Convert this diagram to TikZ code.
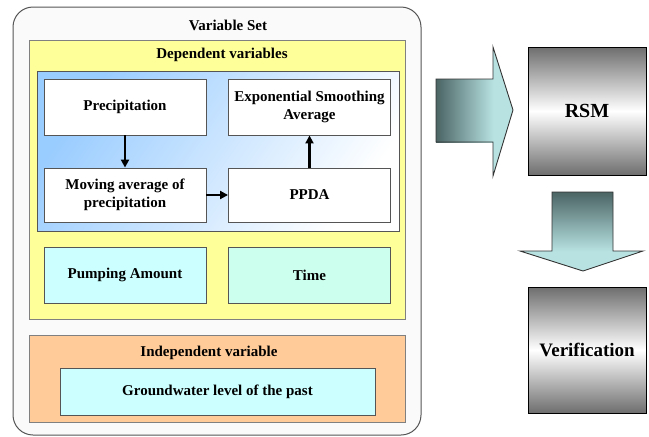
\documentclass[tikz,border=0pt]{standalone}
\usepackage{fontspec}
\setmainfont{Liberation Serif}[BoldFont={Liberation Serif Bold}]
\newfontfamily\boxfont{Liberation Serif Bold}
\usetikzlibrary{arrows.meta}
\definecolor{panelyellow}{HTML}{FFFF99}
\definecolor{panelorange}{HTML}{FFCC99}
\definecolor{panelblue}{HTML}{99CCFF}
\definecolor{cellcyan}{HTML}{CCFFFF}
\definecolor{cellmint}{HTML}{CCFFEE}
\definecolor{framegray}{HTML}{555555}
\definecolor{arrowdark}{HTML}{4B6464}
\definecolor{arrowlight}{HTML}{B8E2E2}
\definecolor{metalgray}{HTML}{6E6E6E}
\begin{document}
\begin{tikzpicture}[x=1pt,y=-1pt,
  font=\boxfont\fontsize{15}{18}\selectfont,
  cell/.style={draw=framegray, line width=0.9pt, rectangle, inner sep=0pt,
    align=center, minimum width=162pt, minimum height=56pt},
  whitecell/.style={cell, fill=white},
  metalbox/.style={draw=black, line width=0.9pt, rectangle, inner sep=0pt,
    align=center, minimum width=118pt, top color=metalgray,
    bottom color=metalgray, middle color=white},
  flow/.style={-{Triangle[length=8pt,width=8pt]}, line width=2.4pt, black},
  caption/.style={inner sep=0pt}]
\useasboundingbox (0,0) rectangle (649,437);

% outer frame and panels
\draw[draw=framegray, line width=1pt, fill=white!98!black, rounded corners=20pt]
  (13,7) rectangle (421,435);
\node[caption] (setlbl) at (228,25) {Variable Set};
\draw[draw=gray, line width=0.9pt, fill=panelyellow] (29,40) rectangle (405,319);
\node[caption] (deplbl) at (222,55) {Dependent variables};
\shade[left color=panelblue, right color=white, shading angle=55]
  (37,71) rectangle (399,231);
\draw[draw=framegray, line width=0.9pt] (37,71) rectangle (399,231);
\draw[draw=gray, line width=0.9pt, fill=panelorange] (29,335) rectangle (405,422);
\node[caption] (indlbl) at (209,353) {Independent variable};

% dependent-variable cells
\node[whitecell] (prec) at (125,107) {Precipitation};
\node[whitecell] (expo) at (309.5,107) {Exponential Smoothing\\Average};
\node[whitecell, minimum height=54pt] (mavg) at (125,195) {Moving average of\\precipitation};
\node[whitecell, minimum height=54pt] (ppda) at (309.5,195) {PPDA};
\node[cell, fill=cellcyan] (pump) at (125,275) {Pumping Amount};
\node[cell, fill=cellmint] (time) at (309.5,275) {Time};
\node[cell, fill=cellcyan, minimum width=315pt, minimum height=47pt] (gwl)
  at (217.5,391.5) {Groundwater level of the past};

% links between cells
\draw[flow] (prec.south) -- (mavg.north);
\draw[flow] (mavg.east) -- (ppda.west);
\draw[flow] (ppda.north) -- (expo.south);

% right column
\node[metalbox, minimum height=128pt] (rsm) at (587,111) {\fontsize{20}{22}\selectfont RSM};
\node[metalbox, minimum height=126pt] (verif) at (587,350) {\fontsize{19}{22}\selectfont Verification};

% block arrow into RSM
\fill[arrowlight] (493,47) -- (513,110) -- (493,176) -- cycle;
\shade[left color=arrowdark, right color=arrowlight] (436,79) rectangle (493.5,142);
\draw[line width=0.9pt, draw=black!80, line join=miter]
  (436,79) -- (493,79) -- (493,47) -- (513,110) -- (493,176) -- (493,142)
  -- (436,142) -- cycle;

% block arrow from RSM to verification
\fill[arrowlight] (520,251) -- (643,251) -- (583,271) -- cycle;
\shade[top color=arrowdark, bottom color=arrowlight] (552,192) rectangle (613,251.5);
\draw[line width=0.9pt, draw=black!80, line join=miter]
  (552,192) -- (613,192) -- (613,251) -- (643,251) -- (583,271) -- (520,251)
  -- (552,251) -- cycle;
\end{tikzpicture}
\end{document}
